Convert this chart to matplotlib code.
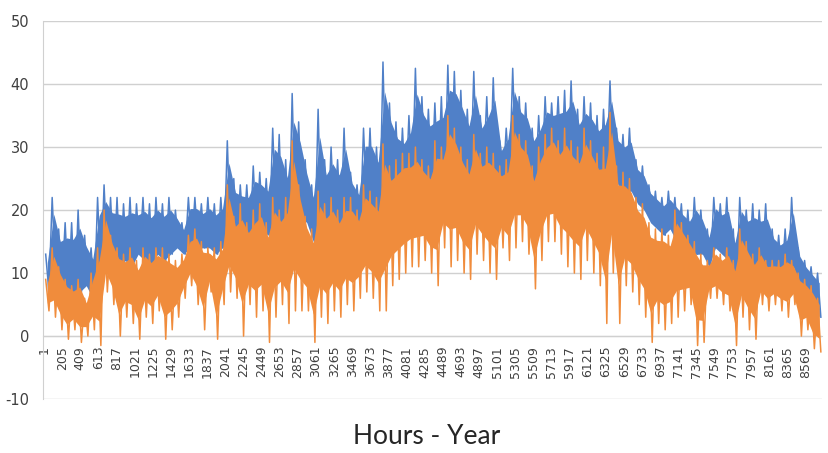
import numpy as np
import matplotlib
matplotlib.use('Agg')
import matplotlib.pyplot as plt

plt.rcParams['axes.unicode_minus'] = False

# hourly values, one high/low pair per 73-hour block
blue_hi = [13, 22, 17, 18, 18, 20, 16, 14, 22, 24, 22, 22, 21, 22, 21, 22, 21, 22, 21, 22,
           20, 18, 22, 22, 21, 22, 21, 22, 31, 25, 24, 24, 27, 26, 25, 33, 32, 28, 38.5, 34,
           28, 24, 36, 28, 30, 28, 33, 26, 24, 33, 33, 30, 43.5, 37, 34, 33, 35, 42.5, 38, 36,
           37, 38, 43, 42, 39, 36, 42, 35, 38, 41, 31, 33, 42.5, 38, 37, 33, 35, 38, 37, 38,
           39, 40.5, 36, 38, 37, 35, 36, 40.5, 33, 32, 33, 28, 27, 24, 23, 22, 23, 22, 21, 20,
           22, 20, 17, 22, 21, 22, 17, 22, 20, 21, 20, 21, 17, 16, 17, 22, 14, 12, 11, 10]
blue_lo = [7, 10, 8, 7, 6, 7, 8, 6, 9, 12, 11, 10, 12, 11, 13, 12, 11, 13, 12, 13,
           14, 13, 14, 14, 14, 14, 13, 14, 15, 15, 16, 15, 16, 17, 16, 18, 16, 15, 18, 19,
           18, 15, 16, 17, 18, 17, 18, 18, 17, 20, 20, 19, 22, 23, 22, 22, 23, 24, 25, 24,
           24, 23, 25, 26, 26, 24, 25, 26, 24, 25, 24, 25, 26, 27, 26, 24, 25, 27, 28, 26,
           24, 26, 25, 26, 25, 24, 25, 26, 24, 23, 23, 21, 20, 18, 17, 16, 17, 15, 13, 12,
           13, 13, 11, 14, 13, 12, 7, 12, 12, 11, 12, 10, 10, 9, 9, 11, 8, 7, 5, 3]
orange_hi = [9, 14, 11, 9, 8, 9, 6, 10, 14, 20, 16, 14, 13, 14, 12, 14, 13, 14, 14, 13,
             12, 13, 16, 17, 15, 14, 14, 15, 24, 19, 21, 18, 20, 21, 18, 22, 20, 22, 31, 24,
             19, 17, 23, 21, 22, 20, 22, 22, 20, 24, 23, 22, 30.5, 27, 28, 29, 29, 30, 28, 27,
             31, 30, 35, 33, 30, 28, 32, 29, 30, 29, 27, 28, 35, 32, 31, 27, 30, 32, 33, 31,
             33, 31, 30, 33, 31, 29, 30, 35.5, 27, 26, 25, 22, 21, 18, 17, 17, 16, 20, 18, 16,
             15, 13, 12, 14, 13, 14, 12, 17, 15, 13, 14, 12, 12, 12, 13, 12, 10, 9, 8, 6]
orange_lo = [4, 3, 1, -0.5, 1, -1, 0, 1, -1.5, 7, 5, 0, 3, 2, -0.5, 3, 2, 4, -0.5, 1,
             3, 6, 8, 5, 1, 7, -0.5, 5, 7, 6, 0, 5, 3, 4, -1, 3, 5, 2, 4, 4,
             4, -1, 3, 2, 4, 3, 5, 4, 6, 7, 6, 4, 4, 8, 9, 10, 11, 11, 12, 10,
             8, 14, 11, 12, 10, 9, 13, 12, 10, 9, 14, 12, 14, 15, 13, 7.5, 12, 15, 15, 13,
             11, 10, 9, 12, 10, 8, 2, 10, 2, 8, 7, 5, 3, -1, 2, 1, 2, 3, 4, 5,
             -1.5, -1, 6, 6, 5, 4, -1.5, 3, 1, -0.5, 5, 4, 5, 4, 3, 5, 0, 1, -2, -2.5]

block = 73
tick_labels = list(range(1, 8760, 204))


def zigzag(hi, lo):
    xs, ys = [], []
    for i, (h, l) in enumerate(zip(hi, lo)):
        xs += [1 + block * i + 18, 1 + block * i + 55]
        ys += [h, l]
    return np.array(xs), np.array(ys)


def core(hi, lo, top, bottom):
    # solid part of the band, spikes are left to the zigzag line
    hi, lo = np.array(hi, float), np.array(lo, float)
    span = hi - lo
    return lo + bottom * span, hi - top * span


hours = 1 + block * np.arange(len(blue_hi)) + block / 2

fig = plt.figure(figsize=(8.29, 4.53), dpi=100)
ax = fig.add_axes([0.052, 0.119, 0.940, 0.8345])

blue = '#5080C8'
orange = '#F08C3C'

b_lo, b_hi = core(blue_hi, blue_lo, 0.22, 0.0)
o_lo, o_hi = core(orange_hi, orange_lo, 0.12, 0.25)
bx, by = zigzag(blue_hi, blue_lo)
ox, oy = zigzag(orange_hi, orange_lo)

ax.fill_between(hours, b_lo, b_hi, color=blue, lw=0, zorder=2)
ax.plot(bx, by, color=blue, lw=1.1, zorder=3)
ax.fill_between(hours, o_lo, o_hi, color=orange, lw=0, zorder=4)
ax.plot(ox, oy, color=orange, lw=1.1, zorder=5)

for s in ['top', 'right']:
    ax.spines[s].set_visible(False)
ax.spines['left'].set_color('#D0D0D0')
ax.spines['bottom'].set_position(('data', 0))
ax.spines['bottom'].set_color('#D0D0D0')

ax.set_xlim(-10, 8760)
ax.set_ylim(-10, 50)
ax.set_yticks(range(-10, 51, 10))
ax.yaxis.grid(True, color='#D0D0D0', lw=1)
ax.set_axisbelow(True)

ax.set_xticks(tick_labels)
ax.set_xticklabels([str(t) for t in tick_labels], rotation=90, fontsize=9, color='#404040')
ax.tick_params(axis='x', length=0, pad=7)
ax.tick_params(axis='y', length=0, pad=10, labelsize=10.5, labelcolor='#404040')

fig.text(0.515, 0.037, 'Hours - Year', ha='center', va='center',
         fontsize=19, color='#262626', family='Lato')

fig.savefig('out.png', dpi=100)
